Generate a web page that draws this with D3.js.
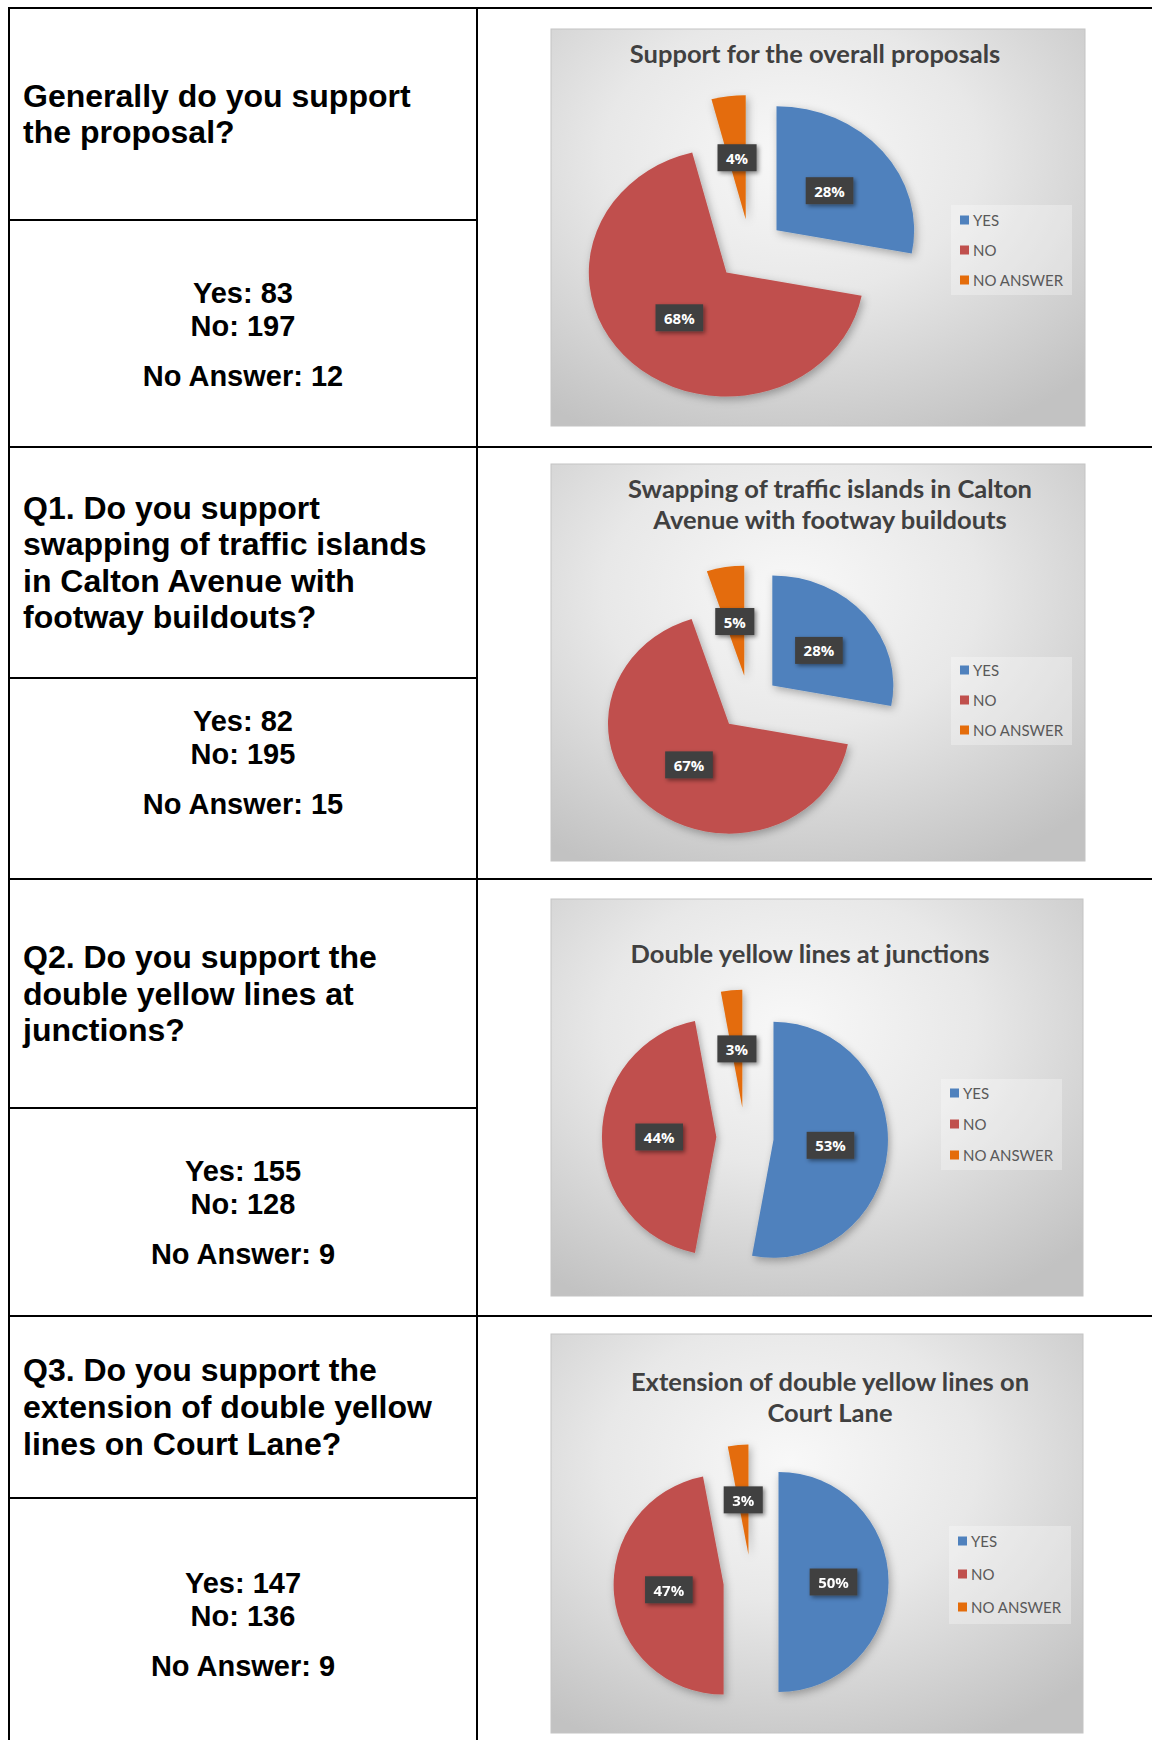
<!DOCTYPE html>
<html lang="en">
<head>
<meta charset="UTF-8">
<title>Consultation results</title>
<script src="https://cdn.jsdelivr.net/npm/d3@7"></script>
<style>
  body { margin: 0; background: #fff; }
  svg { display: block; }
</style>
</head>
<body>
<script>
let width = 1152;
let height = 1740;

// ---- data ----
let questions = [
  ['Generally do you support', 'the proposal?'],
  ['Q1. Do you support', 'swapping of traffic islands', 'in Calton Avenue with', 'footway buildouts?'],
  ['Q2. Do you support the', 'double yellow lines at', 'junctions?'],
  ['Q3. Do you support the', 'extension of double yellow', 'lines on Court Lane?']
];
let yesCounts = [83, 82, 155, 147];
let noCounts = [197, 195, 128, 136];
let noAnswerCounts = [12, 15, 9, 9];

let chartTitles = [
  ['Support for the overall proposals'],
  ['Swapping of traffic islands in Calton', 'Avenue with footway buildouts'],
  ['Double yellow lines at junctions'],
  ['Extension of double yellow lines on', 'Court Lane']
];
let categories = ['YES', 'NO', 'NO ANSWER'];
let yesPercent = [28, 28, 53, 50];
let noPercent = [68, 67, 44, 47];
let noAnswerPercent = [4, 5, 3, 3];
let colors = ['#4f81bd', '#c0504d', '#e46c0a'];

// ---- layout ----
let colLeft = 9;
let colMid = 477;
let rowTops = [8, 447, 879, 1316];
let rowSplits = [220, 678, 1108, 1498];
let countsY = [293, 721, 1171, 1583];

let charts = [
  {x: 551, y: 29, w: 534, h: 397, cx: 199, cy: 221, r: 124, sx: 1.11, titleX: 264, titleY: 24,
   legend: {x: 400, y: 176, w: 121, h: 90, first: 15, step: 30}},
  {x: 551, y: 464, w: 534, h: 397, cx: 198, cy: 239, r: 110, sx: 1.1, titleX: 279, titleY: 24,
   legend: {x: 400, y: 193, w: 121, h: 88, first: 13, step: 30}},
  {x: 551, y: 899, w: 532, h: 397, cx: 194, cy: 238, r: 118, sx: 0.97, titleX: 259, titleY: 54,
   legend: {x: 390, y: 180, w: 121, h: 91, first: 14, step: 31}},
  {x: 551, y: 1334, w: 532, h: 399, cx: 200, cy: 248, r: 110, sx: 1.0, titleX: 279, titleY: 47,
   legend: {x: 398, y: 192, w: 122, h: 98, first: 15, step: 33}}
];

let svg = d3.select('body')
  .append('svg')
  .attr('width', width)
  .attr('height', height);

let defs = svg.append('defs');

let grad = defs.append('radialGradient')
  .attr('id', 'chartBg')
  .attr('cx', '45%')
  .attr('cy', '32%')
  .attr('r', '78%');
grad.append('stop').attr('offset', '0%').attr('stop-color', '#f8f8f8');
grad.append('stop').attr('offset', '45%').attr('stop-color', '#e8e8e8');
grad.append('stop').attr('offset', '100%').attr('stop-color', '#c2c2c2');

defs.append('filter')
  .attr('id', 'pieShadow')
  .attr('x', '-20%').attr('y', '-20%')
  .attr('width', '140%').attr('height', '140%')
  .append('feDropShadow')
  .attr('dx', 2).attr('dy', 3)
  .attr('stdDeviation', 4)
  .attr('flood-color', '#000')
  .attr('flood-opacity', 0.3);

defs.append('filter')
  .attr('id', 'labelShadow')
  .attr('x', '-30%').attr('y', '-30%')
  .attr('width', '160%').attr('height', '160%')
  .append('feDropShadow')
  .attr('dx', 2).attr('dy', 2)
  .attr('stdDeviation', 2)
  .attr('flood-color', '#000')
  .attr('flood-opacity', 0.45);

function renderTable() {
  let g = svg.append('g')
    .attr('stroke', '#000')
    .attr('stroke-width', 2);

  g.append('line')
    .attr('x1', colLeft).attr('x2', width)
    .attr('y1', rowTops[0]).attr('y2', rowTops[0]);

  rowTops.slice(1).forEach(function (y) {
    g.append('line')
      .attr('x1', colLeft).attr('x2', width)
      .attr('y1', y).attr('y2', y);
  });

  rowSplits.forEach(function (y) {
    g.append('line')
      .attr('x1', colLeft).attr('x2', colMid)
      .attr('y1', y).attr('y2', y);
  });

  [colLeft, colMid].forEach(function (x) {
    g.append('line')
      .attr('x1', x).attr('x2', x)
      .attr('y1', rowTops[0] - 1).attr('y2', height);
  });
}

function renderQuestions() {
  let lineH = 36.6;
  questions.forEach(function (lines, i) {
    let mid = (rowTops[i] + rowSplits[i]) / 2;
    let t = svg.append('text')
      .attr('font-family', '"Liberation Sans", Arial, sans-serif')
      .attr('font-weight', 'bold')
      .attr('font-size', 32)
      .attr('fill', '#000');
    lines.forEach(function (line, j) {
      t.append('tspan')
        .attr('x', 23)
        .attr('y', mid + (j - (lines.length - 1) / 2) * lineH)
        .attr('dominant-baseline', 'central')
        .text(line);
    });
  });
}

function renderCounts() {
  let xc = (colLeft + colMid) / 2;
  countsY.forEach(function (y, i) {
    let rows = [
      ['Yes: ' + yesCounts[i], 0],
      ['No: ' + noCounts[i], 33],
      ['No Answer: ' + noAnswerCounts[i], 83]
    ];
    rows.forEach(function (r) {
      svg.append('text')
        .attr('x', xc)
        .attr('y', y + r[1])
        .attr('text-anchor', 'middle')
        .attr('dominant-baseline', 'central')
        .attr('font-family', '"Liberation Sans", Arial, sans-serif')
        .attr('font-weight', 'bold')
        .attr('font-size', 29)
        .attr('fill', '#000')
        .text(r[0]);
    });
  });
}

function renderPie(c, i) {
  let values = [yesPercent[i], noPercent[i], noAnswerPercent[i]];
  let g = svg.append('g')
    .attr('transform', 'translate(' + c.x + ',' + c.y + ')');

  g.append('rect')
    .attr('width', c.w)
    .attr('height', c.h)
    .attr('fill', 'url(#chartBg)')
    .attr('stroke', '#c4c4c4')
    .attr('stroke-width', 1);

  // title
  let title = g.append('text')
    .attr('text-anchor', 'middle')
    .attr('font-family', 'Lato, "Open Sans", sans-serif')
    .attr('font-weight', 'bold')
    .attr('font-size', 25.5)
    .attr('fill', '#404040');
  chartTitles[i].forEach(function (line, j) {
    title.append('tspan')
      .attr('x', c.titleX)
      .attr('y', c.titleY + j * 31)
      .attr('dominant-baseline', 'central')
      .text(line);
  });

  let pie = d3.pie().sort(null).value(function (d) { return d; });
  let arcs = pie(values);
  let arc = d3.arc().innerRadius(0).outerRadius(c.r);
  let explode = c.r * 0.25;

  function offset(d) {
    let a = (d.startAngle + d.endAngle) / 2;
    return [Math.sin(a) * explode, -Math.cos(a) * explode];
  }

  let pieG = g.append('g')
    .attr('transform', 'translate(' + c.cx + ',' + c.cy + ') scale(' + c.sx + ',1)')
    .attr('filter', 'url(#pieShadow)');

  pieG.selectAll('path')
    .data(arcs)
    .enter()
    .append('path')
    .attr('transform', function (d) {
      let o = offset(d);
      return 'translate(' + o[0] + ',' + o[1] + ')';
    })
    .attr('d', arc)
    .attr('fill', function (d, k) { return colors[k]; });

  // data labels
  let labels = g.selectAll('g.label')
    .data(arcs)
    .enter()
    .append('g')
    .attr('class', 'label')
    .attr('transform', function (d) {
      let o = offset(d);
      let ce = arc.centroid(d);
      let lx = c.cx + (o[0] + ce[0]) * c.sx;
      let ly = c.cy + o[1] + ce[1];
      return 'translate(' + lx + ',' + ly + ')';
    });

  let rects = labels.append('rect')
    .attr('fill', '#404040')
    .attr('filter', 'url(#labelShadow)');

  let texts = labels.append('text')
    .attr('text-anchor', 'middle')
    .attr('dominant-baseline', 'central')
    .attr('font-family', '"Open Sans", sans-serif')
    .attr('font-weight', 'bold')
    .attr('font-size', 15)
    .attr('fill', '#fff')
    .text(function (d) { return d.data + '%'; });

  texts.each(function (d, k) {
    let w = this.getComputedTextLength() + 17;
    d3.select(rects.nodes()[k])
      .attr('x', -w / 2)
      .attr('y', -13.5)
      .attr('width', w)
      .attr('height', 27);
  });

  // legend
  let lg = g.append('g')
    .attr('transform', 'translate(' + c.legend.x + ',' + c.legend.y + ')');
  lg.append('rect')
    .attr('width', c.legend.w)
    .attr('height', c.legend.h)
    .attr('fill', '#fff')
    .attr('fill-opacity', 0.3);

  categories.forEach(function (name, k) {
    let y = c.legend.first + k * c.legend.step;
    lg.append('rect')
      .attr('x', 9)
      .attr('y', y - 4.5)
      .attr('width', 9)
      .attr('height', 9)
      .attr('fill', colors[k]);
    lg.append('text')
      .attr('x', 22)
      .attr('y', y)
      .attr('dominant-baseline', 'central')
      .attr('font-family', 'Lato, "Open Sans", sans-serif')
      .attr('font-size', 15)
      .attr('fill', '#595959')
      .text(name);
  });
}

renderTable();
renderQuestions();
renderCounts();
charts.forEach(renderPie);
</script>
</body>
</html>
